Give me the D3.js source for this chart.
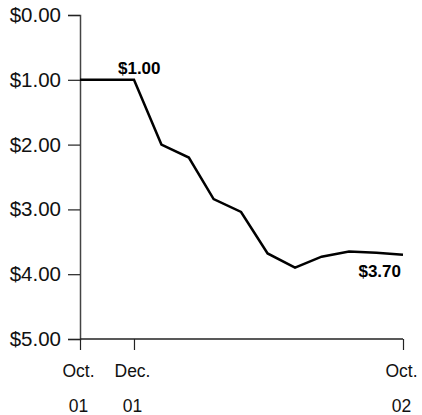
<!DOCTYPE html>
<html>
<head>
<meta charset="utf-8">
<script src="https://cdn.jsdelivr.net/npm/d3@7"></script>
<style>
  body { margin: 0; background: #fff; }
  text { font-family: "Liberation Sans", Arial, sans-serif; }
</style>
</head>
<body>
<script>
// monthly values, Oct 2001 -> Oct 2002
let months = [
  '2001-10', '2001-11', '2001-12', '2002-01', '2002-02', '2002-03', '2002-04',
  '2002-05', '2002-06', '2002-07', '2002-08', '2002-09', '2002-10'
]
let values = [1.00, 1.00, 1.00, 2.00, 2.20, 2.84, 3.04, 3.68, 3.90, 3.73, 3.65, 3.67, 3.70]
let yTicks = [0, 1, 2, 3, 4, 5]
let xTicks = ['2001-10', '2001-12', '2002-10']
let xTickLabels = [['Oct.', '01'], ['Dec.', '01'], ['Oct.', '02']]
let callouts = [
  { month: '2001-12', value: 1.00, text: '$1.00' },
  { month: '2002-10', value: 3.70, text: '$3.70' }
]

let width = 422, height = 415
let margin = { top: 15, right: 19, bottom: 76, left: 80 }

let parse = d3.timeParse('%Y-%m')
let data = months.map((m, i) => ({ date: parse(m), value: values[i] }))

let x = d3.scaleTime()
  .domain([parse(months[0]), parse(months[months.length - 1])])
  .range([margin.left, width - margin.right])

let y = d3.scaleLinear()
  .domain([0, 5])
  .range([margin.top, height - margin.bottom])

const svg = d3.select('body').append('svg')
  .attr('width', width)
  .attr('height', height)

// y axis
svg.append('g')
  .attr('transform', `translate(${margin.left},0)`)
  .call(d3.axisLeft(y).tickValues(yTicks).tickSize(12).tickPadding(7)
    .tickFormat(d => '$' + d3.format('.2f')(d)))
  .call(g => g.select('.domain').attr('stroke', '#444').attr('stroke-width', 1.5))
  .call(g => g.selectAll('.tick line').attr('stroke', '#222').attr('stroke-width', 1.2))
  .call(g => g.selectAll('.tick text').attr('font-size', 20.5).attr('fill', '#111')
    .attr('font-family', '"Liberation Sans", Arial, sans-serif'))

// x axis
let xg = svg.append('g')
  .attr('transform', `translate(0,${height - margin.bottom})`)
  .call(d3.axisBottom(x).tickValues(xTicks.map(parse)).tickSize(11).tickFormat(''))
  .call(g => g.select('.domain').attr('stroke', '#222').attr('stroke-width', 1.5)
    .attr('d', `M${margin.left},0H${width - margin.right}`))
  .call(g => g.selectAll('.tick line').attr('stroke', '#222').attr('stroke-width', 1.2))

xg.selectAll('.tick').each(function (d, i) {
  let t = d3.select(this).select('text')
  t.attr('y', 0).attr('dy', null).attr('font-size', 17.5).attr('fill', '#111')
    .attr('font-family', '"Liberation Sans", Arial, sans-serif')
  t.selectAll('tspan').data(xTickLabels[i]).enter().append('tspan')
    .attr('x', -2)
    .attr('y', (s, j) => 38 + j * 35)
    .text(s => s)
})

// line
let line = d3.line().x(d => x(d.date)).y(d => y(d.value))
svg.append('path')
  .datum(data)
  .attr('fill', 'none')
  .attr('stroke', '#000')
  .attr('stroke-width', 2.5)
  .attr('stroke-linejoin', 'miter')
  .attr('d', line)

// callouts
svg.append('text')
  .attr('x', x(parse(callouts[0].month)) - 16)
  .attr('y', y(callouts[0].value) - 6)
  .attr('font-size', 17).attr('font-weight', 'bold')
  .text(callouts[0].text)

svg.append('text')
  .attr('x', x(parse(callouts[1].month)) - 2)
  .attr('y', y(callouts[1].value) + 22)
  .attr('text-anchor', 'end')
  .attr('font-size', 17).attr('font-weight', 'bold')
  .text(callouts[1].text)
</script>
</body>
</html>
